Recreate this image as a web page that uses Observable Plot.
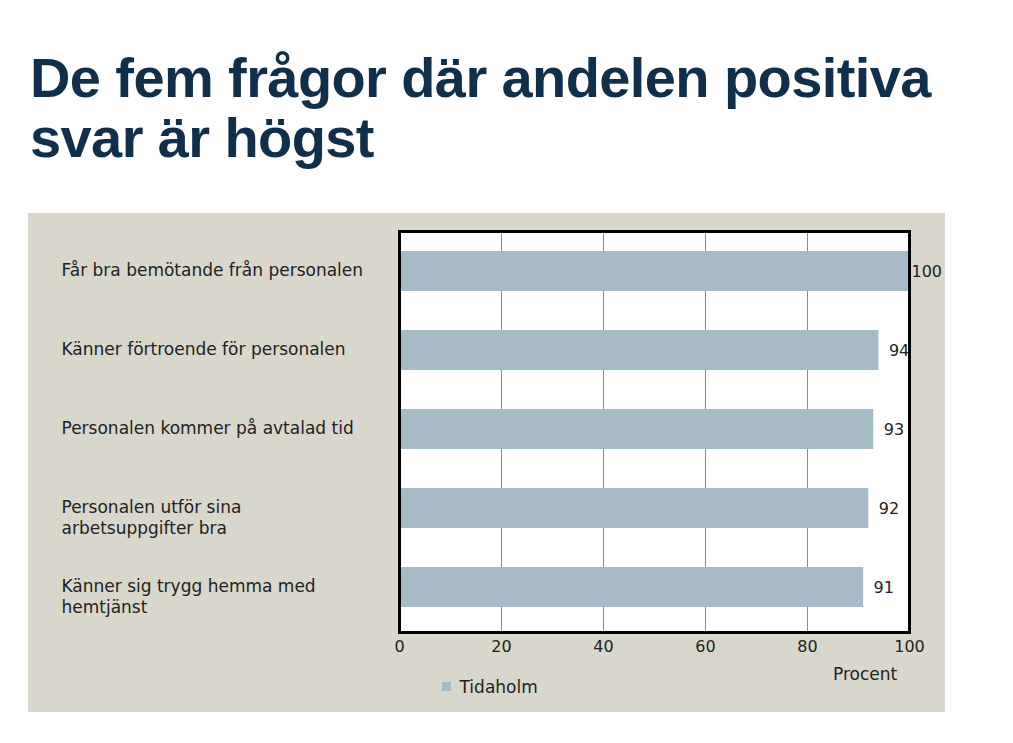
<!DOCTYPE html>
<html>
<head>
<meta charset="utf-8">
<script src="https://cdn.jsdelivr.net/npm/d3@7"></script>
<script src="https://cdn.jsdelivr.net/npm/@observablehq/plot@0.6"></script>
<style>
  html, body { margin: 0; padding: 0; background: #ffffff; width: 1013px; height: 743px; overflow: hidden; }
  body { position: relative; font-family: "DejaVu Sans", sans-serif; }
  #title { position: absolute; left: 30px; top: 48px; margin: 0; font-family: "Liberation Sans", Arial, sans-serif; font-size: 56px; line-height: 60px; font-weight: bold; color: #0f2f4a; letter-spacing: -0.6px; white-space: nowrap; }
  #chart { position: absolute; left: 28px; top: 213px; }
  #legend { position: absolute; left: 442px; top: 670px; }
  #xtitle { position: absolute; left: 833px; top: 664px; font-size: 17px; color: #222; }
</style>
</head>
<body>
<h1 id="title">De fem frågor där andelen positiva<br>svar är högst</h1>
<div id="chart"></div>
<div id="legend"></div>
<div id="xtitle"></div>
<script>
const questions = [
  "Får bra bemötande från personalen",
  "Känner förtroende för personalen",
  "Personalen kommer på avtalad tid",
  "Personalen utför sina\narbetsuppgifter bra",
  "Känner sig trygg hemma med\nhemtjänst"
];
const values = [100, 94, 93, 92, 91];
const seriesName = "Tidaholm";
const xTicks = [0, 20, 40, 60, 80, 100];
const gridTicks = [20, 40, 60, 80];
const axisTitle = "Procent";

const data = questions.map((q, i) => ({question: q, value: values[i]}));
const barColor = "#a7bbc6";

const plot = Plot.plot({
  width: 917,
  height: 499,
  marginLeft: 371,
  marginRight: 36,
  marginTop: 18,
  marginBottom: 80,
  style: {background: "#d9d7cc", fontFamily: "DejaVu Sans, sans-serif", fontSize: "16px", color: "#222"},
  x: {domain: [0, 100]},
  y: {domain: questions, paddingInner: 0.5, paddingOuter: 0.25, insetBottom: 6},
  marks: [
    Plot.frame({fill: "white", stroke: null}),
    Plot.ruleX(gridTicks, {stroke: "#8a8a8a", strokeWidth: 1}),
    Plot.barX(data, {x: "value", y: "question", fill: barColor}),
    Plot.text(data.filter(d => d.value < 100), {x: "value", y: "question", text: d => String(d.value), textAnchor: "start", dx: 10, fontSize: 16, fill: "#222"}),
    Plot.text(data.filter(d => d.value >= 100), {x: "value", y: "question", text: d => String(d.value), textAnchor: "start", dx: 2, fontSize: 16, fill: "#222"}),
    Plot.frame({stroke: "black", strokeWidth: 3}),
    Plot.axisX(xTicks, {tickSize: 0, tickPadding: 8, fontSize: 16, label: null}),
    Plot.axisY({tickSize: 0, textAnchor: "start", dx: -329, lineAnchor: "top", dy: -11, lineHeight: 1.25, fontSize: 17, label: null, lineWidth: 100})
  ]
});
document.getElementById("chart").appendChild(plot);
document.getElementById("xtitle").textContent = axisTitle;

const legend = Plot.legend({
  color: {type: "ordinal", domain: [seriesName], range: [barColor]},
  swatchSize: 9,
  style: {fontFamily: "DejaVu Sans, sans-serif", fontSize: "17px", color: "#222", background: "transparent"}
});
document.getElementById("legend").appendChild(legend);
</script>
</body>
</html>
